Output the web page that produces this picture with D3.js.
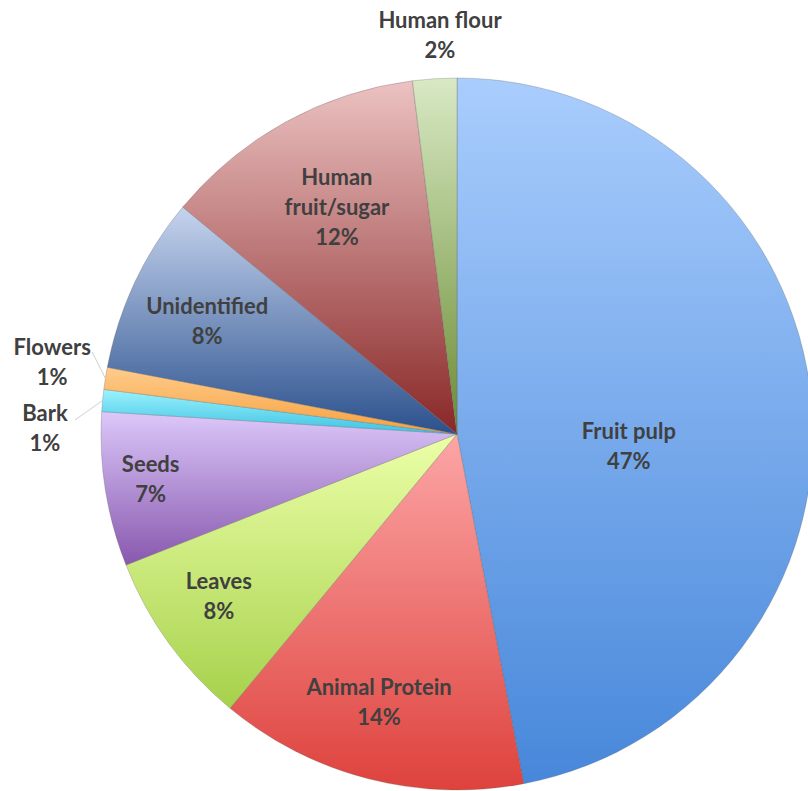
<!DOCTYPE html>
<html>
<head>
<meta charset="utf-8">
<script src="https://cdn.jsdelivr.net/npm/d3@7"></script>
<style>
  html, body { margin: 0; padding: 0; background: #ffffff; }
  svg { display: block; }
</style>
</head>
<body>
<svg id="chart" width="808" height="791"></svg>
<script>
// Diet composition (% of feeding records), clockwise from 12 o'clock
const categories = ["Fruit pulp", "Animal Protein", "Leaves", "Seeds", "Bark", "Flowers", "Unidentified", "Human fruit/sugar", "Human flour"];
const values = [47, 14, 8, 7, 1, 1, 8, 12, 2];
const labelLines = [["Fruit pulp"], ["Animal Protein"], ["Leaves"], ["Seeds"], ["Bark"], ["Flowers"], ["Unidentified"], ["Human", "fruit/sugar"], ["Human flour"]];

// Gradient stops (top, bottom) for each slice
const topColors = ["#a9cdfd", "#fca6a6", "#ecffa8", "#dcc8fa", "#9cf2fd", "#ffcc8c", "#c6d4ee", "#ecc2c2", "#d8e9c4"];
const bottomColors = ["#4787da", "#de423d", "#a6d14b", "#8858ae", "#3cc2e3", "#f6a03e", "#2b518d", "#892727", "#6b8c33"];

// Label placement: fraction along slice angle, fraction of radius
const labelT = [0.556, 0.536, 0.559, 0.52, 0.0, 0.8, 0.47, 0.52, 0.66];
const labelK = [0.484, 0.784, 0.81, 0.87, 1.16, 1.155, 0.77, 0.72, 1.12];
const outside = [false, false, false, false, true, true, false, false, true];

const svg = d3.select("#chart");
const cx = 457, cy = 434, radius = 356;
const g = svg.append("g").attr("transform", `translate(${cx},${cy})`);

const data = categories.map((c, i) => ({ name: c, value: values[i], i }));
const pie = d3.pie().value(d => d.value).sort(null);
const arcs = pie(data);
const arc = d3.arc().innerRadius(0).outerRadius(radius);

const defs = svg.append("defs");
arcs.forEach((a, i) => {
  const grad = defs.append("linearGradient")
    .attr("id", "grad" + i)
    .attr("x1", 0).attr("y1", 0).attr("x2", 0).attr("y2", 1);
  grad.append("stop").attr("offset", "0%").attr("stop-color", topColors[i]);
  grad.append("stop").attr("offset", "100%").attr("stop-color", bottomColors[i]);
});

g.selectAll("path.slice")
  .data(arcs)
  .join("path")
  .attr("class", "slice")
  .attr("d", arc)
  .attr("fill", (d, i) => `url(#grad${i})`)
  .attr("stroke", "rgba(90,90,90,0.35)")
  .attr("stroke-width", 0.8);

function polar(angle, r) {
  return [Math.sin(angle) * r, -Math.cos(angle) * r];
}

const fontSize = 22, lineH = 30;
arcs.forEach((a, i) => {
  const ang = a.startAngle + (a.endAngle - a.startAngle) * labelT[i];
  let [x, y] = polar(ang, radius * labelK[i]);
  if (categories[i] === "Bark") { x = -412; y = -6; }
  const lines = labelLines[i].concat([values[i] + "%"]);
  const text = g.append("text")
    .attr("text-anchor", "middle")
    .attr("font-family", "Lato, 'Open Sans', sans-serif")
    .attr("font-weight", "bold")
    .attr("font-size", fontSize)
    .attr("fill", "#404040");
  const y0 = y - (lines.length - 1) * lineH / 2;
  lines.forEach((ln, j) => {
    text.append("tspan")
      .attr("x", x)
      .attr("y", y0 + j * lineH)
      .attr("dy", "0.35em")
      .text(ln);
  });
  if (outside[i] && categories[i] !== "Human flour") {
    const mid = (a.startAngle + a.endAngle) / 2;
    const [ex, ey] = polar(mid, radius);
    const sx = categories[i] === "Flowers" ? x + 40 : x + 30;
    const sy = categories[i] === "Flowers" ? y - 10 : y - 8;
    g.append("line")
      .attr("x1", sx).attr("y1", sy)
      .attr("x2", ex).attr("y2", ey)
      .attr("stroke", "#d0d0d0")
      .attr("stroke-width", 1);
  }
});
</script>
</body>
</html>
